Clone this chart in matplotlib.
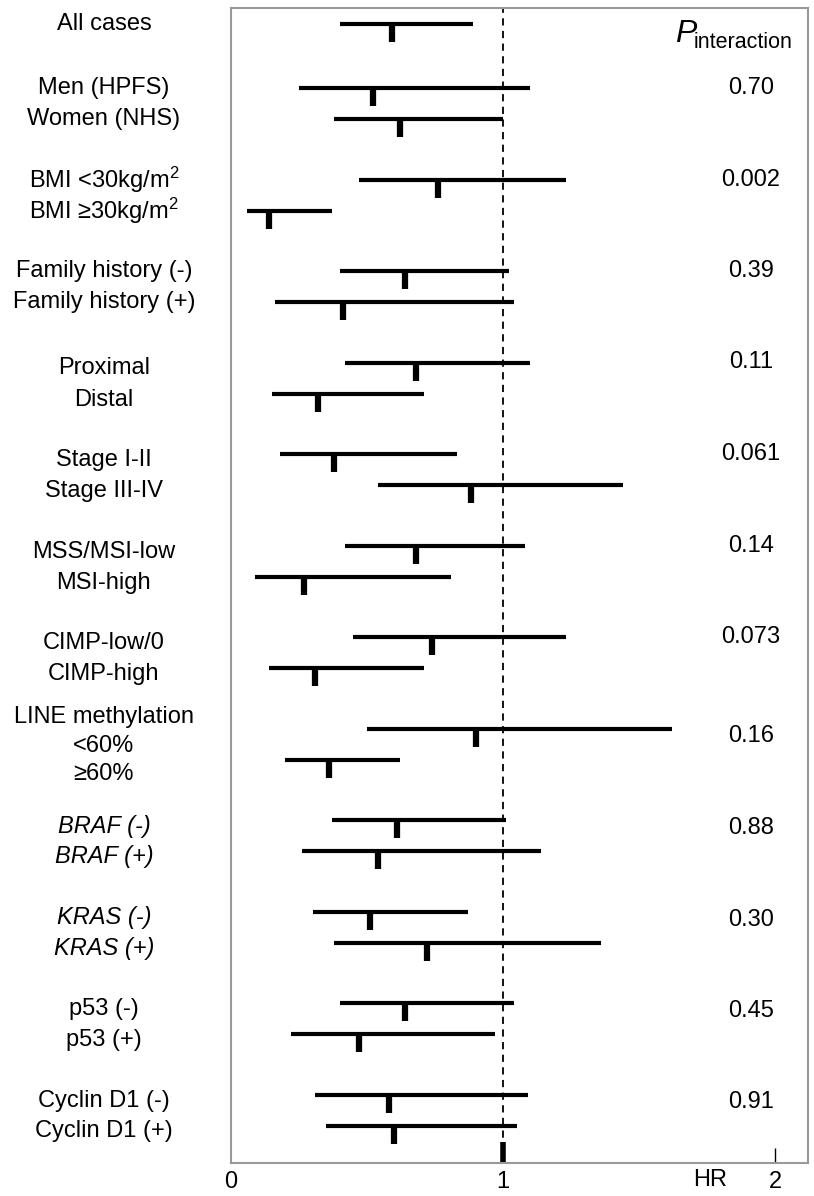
import numpy as np
import matplotlib.pyplot as plt

plt.rcParams['font.family'] = ['Liberation Sans', 'DejaVu Sans']
plt.rcParams['mathtext.fontset'] = 'custom'
plt.rcParams['mathtext.rm'] = 'Liberation Sans'
plt.rcParams['mathtext.it'] = 'Liberation Sans:italic'

# groups: each a list of (row label), HR, lower CI, upper CI, p interaction
groups = ["All cases", "Sex", "BMI", "Family history", "Location", "Stage",
          "MSI", "CIMP", "LINE", "BRAF", "KRAS", "p53", "Cyclin D1"]
row_labels = [
    ["All cases"],
    ["Men (HPFS)", "Women (NHS)"],
    ["BMI <30kg/m$^{2}$", "BMI \u226530kg/m$^{2}$"],
    ["Family history (-)", "Family history (+)"],
    ["Proximal", "Distal"],
    ["Stage I-II", "Stage III-IV"],
    ["MSS/MSI-low", "MSI-high"],
    ["CIMP-low/0", "CIMP-high"],
    ["<60%", "\u226560%"],
    ["BRAF (-)", "BRAF (+)"],
    ["KRAS (-)", "KRAS (+)"],
    ["p53 (-)", "p53 (+)"],
    ["Cyclin D1 (-)", "Cyclin D1 (+)"],
]
hr = [[0.59], [0.52, 0.62], [0.76, 0.14], [0.64, 0.41], [0.68, 0.32],
      [0.38, 0.88], [0.68, 0.27], [0.74, 0.31], [0.90, 0.36], [0.61, 0.54],
      [0.51, 0.72], [0.64, 0.47], [0.58, 0.60]]
ci_low = [[0.40], [0.25, 0.38], [0.47, 0.06], [0.40, 0.16], [0.42, 0.15],
          [0.18, 0.54], [0.42, 0.09], [0.45, 0.14], [0.50, 0.20], [0.37, 0.26],
          [0.30, 0.38], [0.40, 0.22], [0.31, 0.35]]
ci_high = [[0.89], [1.10, 1.00], [1.23, 0.37], [1.02, 1.04], [1.10, 0.71],
           [0.83, 1.44], [1.08, 0.81], [1.23, 0.71], [1.62, 0.62], [1.01, 1.14],
           [0.87, 1.36], [1.04, 0.97], [1.09, 1.05]]
p_values = ["", "0.70", "0.002", "0.39", "0.11", "0.061", "0.14", "0.073",
            "0.16", "0.88", "0.30", "0.45", "0.91"]
italic_groups = ["BRAF", "KRAS"]

W, H = 814, 1196
fig = plt.figure(figsize=(W / 100, H / 100), dpi=100)
ax = fig.add_axes([231 / W, 1 - 1163 / H, 577 / W, 1155 / H])
ax.set_xlim(0, 2.12)
ax.set_ylim(1163, 8)  # y in pixel rows

fs = 17
label_x = -0.467

for g, name in enumerate(groups):
    top = 24 if g == 0 else 88 + 91.5 * (g - 1)
    shift = 0 if g < 4 else 6
    for r in range(len(hr[g])):
        y = top + 31 * r
        ax.hlines(y, ci_low[g][r], ci_high[g][r], color='black', lw=3)
        ax.vlines(hr[g][r], y, y + 18, color='black', lw=4.5)
        style = 'italic' if name in italic_groups else 'normal'
        if name == "LINE":
            ly = top - 12 + 29 * (r + 1)
        else:
            ly = y + shift
        ax.text(label_x, ly, row_labels[g][r], ha='center', va='center',
                fontsize=fs, style=style, clip_on=False)
    if name == "LINE":
        ax.text(label_x, top - 12, "LINE methylation", ha='center',
                va='center', fontsize=fs, clip_on=False)
    if p_values[g]:
        py = top if g < 8 else top + 8
        ax.text(1.91, py, p_values[g], ha='center', va='center', fontsize=fs)

# P with subscript "interaction"
ax.text(1.63, 34, "P", style='italic', ha='left', va='center', fontsize=23)
ax.text(1.70, 42, "interaction", ha='left', va='center', fontsize=15.5)

ax.axvline(1, color='black', lw=1.3, ls=(0, (4, 3)))
ax.vlines(1, 1142, 1163, color='black', lw=4)
ax.vlines(2, 1148, 1163, color='black', lw=1)

for s in ax.spines.values():
    s.set_color('#999999')
    s.set_linewidth(1.5)
ax.set_yticks([])
ax.set_xticks([0, 1, 2])
ax.set_xticklabels(["0", "1", "2"], fontsize=fs)
ax.tick_params(axis='x', length=0, pad=6)
ax.text(1.76, 1180, "HR", ha='center', va='center', fontsize=fs,
        clip_on=False)

fig.savefig("out.png", dpi=100)
